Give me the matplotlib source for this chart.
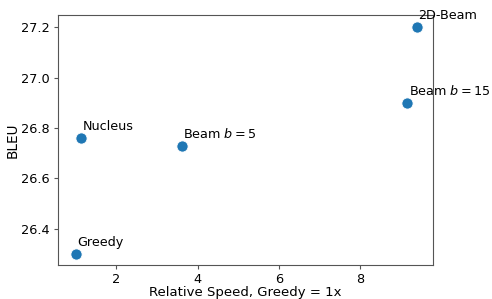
import numpy as np
import matplotlib.pyplot as plt

names = ["Greedy", "Nucleus", "Beam $b=5$", "Beam $b=15$", "2D-Beam"]
speed = [1.0, 1.13, 3.61, 9.16, 9.39]
bleu = [26.30, 26.76, 26.73, 26.90, 27.20]

fig, ax = plt.subplots(figsize=(4.92, 2.99), dpi=100)
fig.subplots_adjust(left=0.118, right=0.880, top=0.950, bottom=0.114)

ax.scatter(speed, bleu, s=65, color="#1f77b4", edgecolor="white", linewidth=0.6, zorder=3)
for n, x, y in zip(names, speed, bleu):
    ax.annotate(n, (x, y), xytext=(1.2, 5.8), textcoords="offset points",
                fontsize=9.2, clip_on=False)

ax.set_xlim(0.57, 9.79)
ax.set_ylim(26.257, 27.248)
ax.set_xticks([2, 4, 6, 8])
ax.set_yticks([26.4, 26.6, 26.8, 27.0, 27.2])
ax.tick_params(labelsize=9.3, color="#555555", length=3, pad=3)
for s in ax.spines.values():
    s.set_color("#555555")
ax.set_xlabel("Relative Speed, Greedy = 1x", fontsize=9.5, labelpad=0)
ax.set_ylabel("BLEU", fontsize=9.8, labelpad=1)

plt.savefig("out.png", dpi=100)
